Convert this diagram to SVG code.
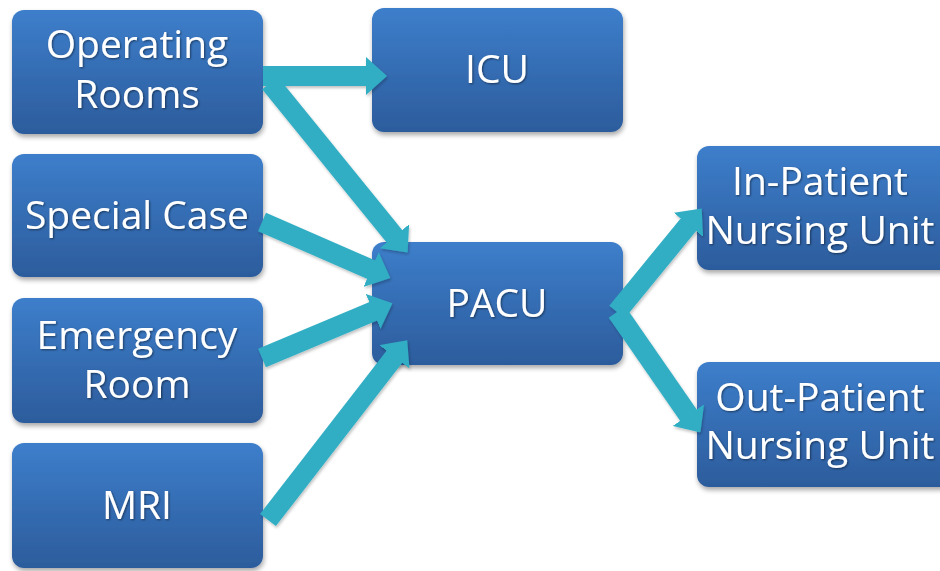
<svg xmlns="http://www.w3.org/2000/svg" width="940" height="571" viewBox="0 0 940 571">
  <defs>
    <linearGradient id="boxFill" x1="0" y1="0" x2="0" y2="1">
      <stop offset="0" stop-color="#3D7ECB"/>
      <stop offset="1" stop-color="#2C5C9C"/>
    </linearGradient>
    <linearGradient id="arrowFill" x1="0" y1="0" x2="1" y2="1">
      <stop offset="0" stop-color="#33B3C9"/>
      <stop offset="1" stop-color="#2EA9C0"/>
    </linearGradient>
    <filter id="shadow" x="-10%" y="-10%" width="125%" height="130%">
      <feGaussianBlur in="SourceAlpha" stdDeviation="2.5"/>
      <feOffset dx="1" dy="3" result="b"/>
      <feComponentTransfer><feFuncA type="linear" slope="0.35"/></feComponentTransfer>
      <feMerge><feMergeNode/><feMergeNode in="SourceGraphic"/></feMerge>
    </filter>
    <filter id="arrowShadow" x="-20%" y="-20%" width="140%" height="140%">
      <feGaussianBlur in="SourceAlpha" stdDeviation="1.5"/>
      <feOffset dx="1" dy="2"/>
      <feComponentTransfer><feFuncA type="linear" slope="0.25"/></feComponentTransfer>
      <feMerge><feMergeNode/><feMergeNode in="SourceGraphic"/></feMerge>
    </filter>
    <filter id="textShadow" x="-5%" y="-20%" width="110%" height="140%">
      <feGaussianBlur in="SourceAlpha" stdDeviation="0.8"/>
      <feOffset dx="1" dy="1"/>
      <feComponentTransfer><feFuncA type="linear" slope="0.5"/></feComponentTransfer>
      <feMerge><feMergeNode/><feMergeNode in="SourceGraphic"/></feMerge>
    </filter>
    <marker id="head" viewBox="0 0 21 38" markerWidth="21" markerHeight="38" refX="1" refY="19" orient="auto" markerUnits="userSpaceOnUse">
      <path d="M0,0 L21,19 L0,38 Z" fill="#31AEC4"/>
    </marker>
  </defs>
  <style>
    .box { fill: url(#boxFill); filter: url(#shadow); }
    .lbl { font-family: "Open Sans", "Liberation Sans", sans-serif; font-size: 39px; fill: #FFFFFF; text-anchor: middle; filter: url(#textShadow); }
    .arrow { stroke: #31AEC4; stroke-width: 20; fill: none; marker-end: url(#head); }
    #connectors { filter: url(#arrowShadow); }
  </style>

  <!-- nodes -->
  <g id="operating-rooms">
    <rect class="box" x="12" y="10" width="251" height="124" rx="12"/>
    <text class="lbl" x="137" y="58">Operating</text>
    <text class="lbl" x="137" y="108">Rooms</text>
  </g>
  <g id="special-case">
    <rect class="box" x="12" y="154" width="251" height="123" rx="12"/>
    <text class="lbl" x="137" y="229">Special Case</text>
  </g>
  <g id="emergency-room">
    <rect class="box" x="12" y="298" width="251" height="125" rx="12"/>
    <text class="lbl" x="137" y="349">Emergency</text>
    <text class="lbl" x="137" y="398">Room</text>
  </g>
  <g id="mri">
    <rect class="box" x="12" y="443" width="251" height="125" rx="12"/>
    <text class="lbl" x="137" y="519">MRI</text>
  </g>
  <g id="icu">
    <rect class="box" x="372" y="8" width="251" height="124" rx="12"/>
    <text class="lbl" x="497" y="83">ICU</text>
  </g>
  <g id="pacu">
    <rect class="box" x="372" y="242" width="251" height="123" rx="12"/>
    <text class="lbl" x="497" y="317">PACU</text>
  </g>
  <g id="in-patient">
    <rect class="box" x="697" y="146" width="260" height="124" rx="12"/>
    <text class="lbl" x="820" y="195">In-Patient</text>
    <text class="lbl" x="820" y="244">Nursing Unit</text>
  </g>
  <g id="out-patient">
    <rect class="box" x="697" y="362" width="260" height="125" rx="12"/>
    <text class="lbl" x="820" y="411">Out-Patient</text>
    <text class="lbl" x="820" y="459">Nursing Unit</text>
  </g>

  <!-- connectors, drawn over the node edges -->
  <g id="connectors">
    <line class="arrow" x1="263" y1="76" x2="367" y2="76"/>
    <line class="arrow" x1="270" y1="83" x2="395" y2="237"/>
    <line class="arrow" x1="262" y1="222" x2="372" y2="270"/>
    <line class="arrow" x1="262" y1="358" x2="374" y2="311"/>
    <line class="arrow" x1="268" y1="520" x2="395" y2="356"/>
    <line class="arrow" x1="617" y1="312" x2="689" y2="224"/>
    <line class="arrow" x1="617" y1="312" x2="689" y2="416"/>
  </g>
</svg>
